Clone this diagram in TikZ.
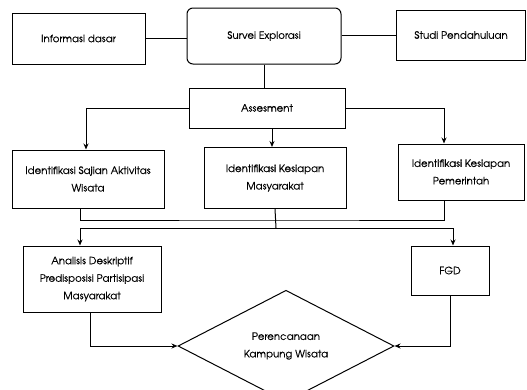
\documentclass[tikz,border=0pt]{standalone}
\usepackage{fontspec}
\setmainfont[FakeBold=0.3]{TeX Gyre Adventor}
\usetikzlibrary{shapes.geometric,arrows.meta,calc}
\begin{document}
\begin{tikzpicture}[x=1pt,y=-1pt,
  box/.style={draw,line width=1pt,inner sep=2pt,align=center,font=\fontsize{10.2}{17.5}\selectfont},
  arr/.style={line width=1pt,-{Stealth[length=6pt,width=5pt]}},
  ln/.style={line width=1pt}]
\useasboundingbox (0,0) rectangle (527,389);
\node[box,minimum width=133pt,minimum height=51pt] (info) at (78.5,38.5) {Informasi dasar};
\node[box,rounded corners=6pt,minimum width=154pt,minimum height=56pt] (survei) at (264,36) {Survei Explorasi};
\node[box,minimum width=129pt,minimum height=50pt] (studi) at (461,35) {Studi Pendahuluan};
\node[box,minimum width=156pt,minimum height=40pt] (assess) at (267,108) {Assesment};
\node[box,minimum width=152pt,minimum height=58pt] (b1) at (88,179) {Identifikasi Sajian Aktivitas\\Wisata};
\node[box,minimum width=142pt,minimum height=61pt] (b2) at (275,178) {Identifikasi Kesiapan\\Masyarakat};
\node[box,minimum width=126pt,minimum height=56pt] (b3) at (461,172) {Identifikasi Kesiapan\\Pemerintah};
\node[box,minimum width=138pt,minimum height=66pt] (b4) at (92,279) {Analisis Deskriptif\\Predisposisi Partisipasi\\Masyarakat};
\node[box,minimum width=78pt,minimum height=49pt] (fgd) at (450,270.5) {FGD};
\node[box,diamond,minimum width=216pt,minimum height=86pt,inner sep=0pt] (dia) at (286,346) {Perencanaan\\Kampung Wisata};
\coordinate (c1) at (276,220);
\coordinate (c2) at (276,228);
\draw[ln] (info.east) -- (survei.west |- info.east);
\draw[ln] (survei.east |- studi.west) -- (studi.west);
\draw[ln] (survei.south) -- (survei.south |- assess.north);
\draw[arr] (assess.west) -| ([xshift=-2pt]b1.north);
\draw[arr] (assess.east) -| ([xshift=-17pt]b3.north);
\draw[arr] ([xshift=5pt]assess.south) -- ([xshift=5pt]assess.south |- b2.north);
\draw[ln] ([xshift=-8pt]b1.south) |- (c1) -| ([xshift=-17pt]b3.south);
\draw[ln] (b2.south) -- (c2);
\draw[arr] (c2) -| ([xshift=-12pt]b4.north);
\draw[arr] (c2) -| ([xshift=3pt]fgd.north);
\draw[arr] ([xshift=-2pt]b4.south) |- (dia.west);
\draw[arr] (fgd.south) |- (dia.east);
\end{tikzpicture}
\end{document}
